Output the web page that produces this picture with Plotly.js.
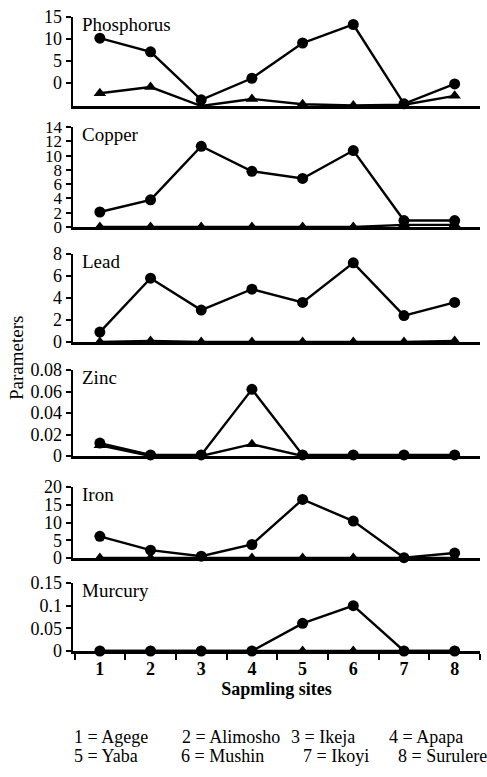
<!DOCTYPE html>
<html>
<head>
<meta charset="utf-8">
<script src="https://cdn.plot.ly/plotly-3.0.1.min.js"></script>
<style>html,body{margin:0;padding:0;background:#fff;}#chart{width:487px;height:777px;}</style>
</head>
<body>
<div id="chart"></div>
<script>
// ---- data ----
const sites = [1, 2, 3, 4, 5, 6, 7, 8];
const siteNames = ['Agege', 'Alimosho', 'Ikeja', 'Apapa', 'Yaba', 'Mushin', 'Ikoyi', 'Surulere'];
const panelNames = ['Phosphorus', 'Copper', 'Lead', 'Zinc', 'Iron', 'Murcury'];

const phosphorusCircle   = [10.2, 7.1, -3.8, 1.1, 9.1, 13.3, -4.7, -0.2];
const phosphorusTriangle = [-2.3, -0.9, -5.2, -3.6, -4.8, -5.1, -4.9, -2.9];
const copperCircle       = [2.1, 3.8, 11.3, 7.8, 6.8, 10.7, 0.9, 0.9];
const copperTriangle     = [0, 0, 0, 0, 0, 0, 0.3, 0.3];
const leadCircle         = [0.9, 5.8, 2.9, 4.8, 3.6, 7.2, 2.4, 3.6];
const leadTriangle       = [0, 0.1, 0, 0, 0, 0, 0, 0.1];
const zincCircle         = [0.012, 0.001, 0.001, 0.062, 0.001, 0.001, 0.001, 0.001];
const zincTriangle       = [0.01, 0, 0, 0.011, 0, 0, 0, 0];
const ironCircle         = [6.1, 2.2, 0.5, 3.8, 16.5, 10.4, 0.1, 1.4];
const ironTriangle       = [0, 0, 0, 0, 0, 0, 0, 0];
const mercuryCircle      = [0, 0, 0, 0, 0.061, 0.1, 0, 0];
const mercuryTriangle    = [0, 0, 0, 0, 0, 0, 0, 0];

const phosphorusTicks = [0, 5, 10, 15];
const copperTicks = [0, 2, 4, 6, 8, 10, 12, 14];
const leadTicks = [0, 2, 4, 6, 8];
const zincTicks = [0, 0.02, 0.04, 0.06, 0.08];
const zincTickText = ['0', '0.02', '0.04', '0.06', '0.08'];
const ironTicks = [0, 5, 10, 15, 20];
const mercuryTicks = [0, 0.05, 0.1, 0.15];
const mercuryTickText = ['0', '0.05', '0.1', '0.15'];

// ---- layout helpers ----
const H = 777, L = 73, R = 7, PW = 487 - L - R;
const FONT = 'Liberation Serif';
const panels = [
  {c: phosphorusCircle, t: phosphorusTriangle, range: [-5.2, 15], tv: phosphorusTicks, tt: phosphorusTicks.map(String), top: 17, bot: 106, fs: 18},
  {c: copperCircle, t: copperTriangle, range: [0, 14], tv: copperTicks, tt: copperTicks.map(String), top: 127, bot: 227, fs: 17},
  {c: leadCircle, t: leadTriangle, range: [0, 8], tv: leadTicks, tt: leadTicks.map(String), top: 254, bot: 342, fs: 18},
  {c: zincCircle, t: zincTriangle, range: [0, 0.08], tv: zincTicks, tt: zincTickText, top: 370, bot: 456, fs: 18},
  {c: ironCircle, t: ironTriangle, range: [0, 20], tv: ironTicks, tt: ironTicks.map(String), top: 487, bot: 558, fs: 18},
  {c: mercuryCircle, t: mercuryTriangle, range: [0, 0.15], tv: mercuryTicks, tt: mercuryTickText, top: 583, bot: 651, fs: 18}
];

const data = [];
const layout = {
  width: 487, height: 777,
  margin: {l: L, r: R, t: 0, b: 0, pad: 0},
  paper_bgcolor: '#fff', plot_bgcolor: 'rgba(0,0,0,0)',
  showlegend: false,
  font: {family: FONT, color: '#000', size: 17},
  annotations: []
};

panels.forEach((p, i) => {
  const n = i + 1;
  const xa = n === 1 ? 'x' : 'x' + n;
  const ya = n === 1 ? 'y' : 'y' + n;
  data.push({x: sites, y: p.t, xaxis: xa, yaxis: ya, type: 'scatter', mode: 'lines+markers',
    line: {color: '#000', width: 2.4}, marker: {symbol: 'triangle-up', size: 11, color: '#000'}, cliponaxis: false});
  data.push({x: sites, y: p.c, xaxis: xa, yaxis: ya, type: 'scatter', mode: 'lines+markers',
    line: {color: '#000', width: 2.4}, marker: {symbol: 'circle', size: 11, color: '#000'}, cliponaxis: false});
  const isLast = n === panels.length;
  const xKey = n === 1 ? 'xaxis' : 'xaxis' + n;
  const yKey = n === 1 ? 'yaxis' : 'yaxis' + n;
  layout[xKey] = {
    domain: [0, 1], anchor: ya, range: [0.47, 8.5],
    showline: true, linecolor: '#000', linewidth: 2.5,
    showgrid: false, zeroline: false, fixedrange: true,
    showticklabels: isLast,
    tickmode: 'array', tickvals: sites, ticktext: sites.map(String),
    ticks: '',
    tickfont: {family: FONT, size: 18, color: '#000', weight: 'bold'}
  };
  if (isLast) {
    layout[xKey].minor = {ticks: 'outside', tick0: 0.5, dtick: 1, ticklen: 6, tickwidth: 2, tickcolor: '#000'};
    layout[xKey].title = {text: 'Sapmling sites', font: {family: FONT, size: 18, color: '#000', weight: 'bold'}, standoff: 4};
  }
  layout[yKey] = {
    domain: [1 - p.bot / H, 1 - p.top / H], anchor: xa, range: p.range,
    showline: true, linecolor: '#000', linewidth: 2.5,
    showgrid: false, zeroline: false, fixedrange: true,
    tickmode: 'array', tickvals: p.tv, ticktext: p.tt,
    ticks: 'outside', ticklen: 5, tickwidth: 2, tickcolor: '#000',
    tickfont: {family: FONT, size: p.fs, color: '#000'}, ticklabelstandoff: 0
  };
  layout.annotations.push({
    text: panelNames[i], xref: 'paper', yref: ya + ' domain',
    x: (80 - L) / PW, y: 1, xanchor: 'left', yanchor: 'middle', yshift: -7,
    showarrow: false, font: {family: FONT, size: 19, color: '#000'}
  });
});

// y-axis title
layout.annotations.push({
  text: 'Parameters', xref: 'paper', yref: 'paper', x: (16 - L) / PW, y: 1 - 358 / H,
  xanchor: 'center', yanchor: 'middle', textangle: -90, showarrow: false,
  font: {family: FONT, size: 19, color: '#000'}
});

// site key
const keyX = [72, 180, 289, 387, 72, 179, 301, 396];
const keyY = [737, 737, 737, 737, 756, 756, 756, 756];
siteNames.forEach((name, i) => {
  layout.annotations.push({
    text: sites[i] + ' = ' + name, xref: 'paper', yref: 'paper',
    x: (keyX[i] - L) / PW, y: 1 - keyY[i] / H, xanchor: 'left', yanchor: 'middle',
    showarrow: false, font: {family: FONT, size: 18, color: '#000'}
  });
});

Plotly.newPlot('chart', data, layout, {displayModeBar: false, staticPlot: true});
</script>
</body>
</html>
